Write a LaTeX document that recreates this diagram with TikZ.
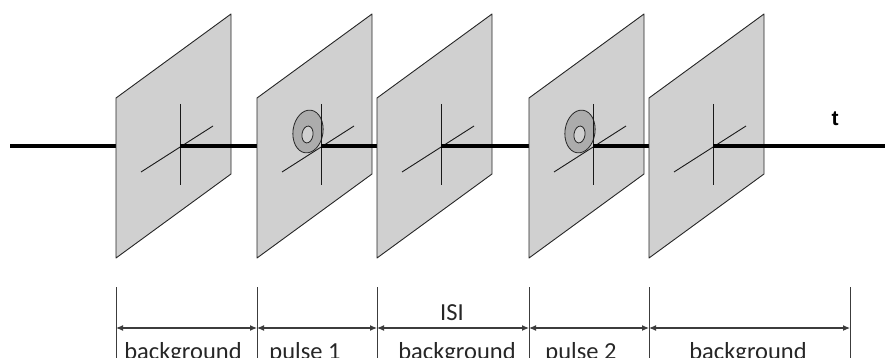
\documentclass[tikz,border=0pt]{standalone}
\usepackage{fontspec}
\setmainfont{Carlito}
\newfontfamily\axisfont{Liberation Sans}
\usetikzlibrary{arrows.meta}
\definecolor{panelFill}{RGB}{208,208,208}
\definecolor{ringFill}{RGB}{172,172,172}
\definecolor{dimLine}{RGB}{60,60,60}

\begin{document}
\begin{tikzpicture}[
      x=1pt, y=-1pt,
      panel/.style={draw=black!85, fill=panelFill, line width=0.9pt, line join=round},
      cross/.style={draw=black!90, line width=0.9pt},
      axis/.style={draw=black, line width=3.6pt},
      ring/.style={draw=black!85, fill=ringFill, line width=0.8pt, even odd rule},
      tick/.style={draw=dimLine, line width=1pt},
      dim/.style={{Latex[length=7pt,width=6pt]}-{Latex[length=7pt,width=6pt]}, draw=dimLine, line width=1.1pt},
      lbl/.style={anchor=base, inner sep=0pt, text=black!85, font=\fontsize{24.5}{28}\selectfont},
      screen/.pic={
          \path[panel] (-64,-48) -- (51,-132) -- (51,28) -- (-64,112) -- cycle;
          \path[cross] (-39,26) -- (33,-20);
          \path[cross] (0,-42) -- (0,39);
      },
      pulsescreen/.pic={
          \path[panel] (-64,-48) -- (51,-132) -- (51,28) -- (-64,112) -- cycle;
          \path[cross] (-39,26) -- (33,-20);
          \path[ring] (-13,-14.5) ellipse [x radius=15pt, y radius=21.5pt, rotate=-8]
                      (-13.5,-11.5) ellipse [x radius=5.5pt, y radius=8.5pt, rotate=-8];
          \path[cross] (0,-42) -- (0,39);
      }
  ]
      \useasboundingbox (0,0) rectangle (885,358);
      \coordinate (tStart) at (10,146);
      \coordinate (tEnd) at (885,146);
      \coordinate (c1) at (180,146);
      \coordinate (c2) at (321,146);
      \coordinate (c3) at (441,146);
      \coordinate (c4) at (593,146);
      \coordinate (c5) at (713,146);
      \draw[axis] (tStart) -- (c1);
      \pic at (c1) {screen};
      \draw[axis] (c1) -- (c2);
      \pic at (c2) {pulsescreen};
      \draw[axis] (c2) -- (c3);
      \pic at (c3) {screen};
      \draw[axis] (c3) -- (c4);
      \pic at (c4) {pulsescreen};
      \draw[axis] (c4) -- (c5);
      \pic at (c5) {screen};
      \draw[axis] (c5) -- (tEnd);
      \node[font=\axisfont\bfseries\fontsize{21}{24}\selectfont] (tlbl) at (835,119) {t};
      \coordinate (m0) at (116,328);
      \coordinate (m1) at (257,328);
      \coordinate (m2) at (377,328);
      \coordinate (m3) at (529,328);
      \coordinate (m4) at (649,328);
      \coordinate (m5) at (850,328);
      \draw[tick] (116,287) -- (116,358);
      \draw[tick] (257,287) -- (257,358);
      \draw[tick] (377,287) -- (377,358);
      \draw[tick] (529,287) -- (529,358);
      \draw[tick] (649,287) -- (649,358);
      \draw[tick] (850,287) -- (850,358);
      \draw[dim] (m0) -- (m1);
      \draw[dim] (m1) -- (m2);
      \draw[dim] (m2) -- (m3);
      \draw[dim] (m3) -- (m4);
      \draw[dim] (m4) -- (m5);
      \node[lbl] (bg1) at (183,359) {background};
      \node[lbl] (pulse1) at (305,359) {pulse 1};
      \node[lbl] (isi) at (452,320) {ISI};
      \node[lbl] (bg2) at (457,359) {background};
      \node[lbl] (pulse2) at (581,359) {pulse 2};
      \node[lbl] (bg3) at (748,359) {background};
  \end{tikzpicture}
\end{document}
